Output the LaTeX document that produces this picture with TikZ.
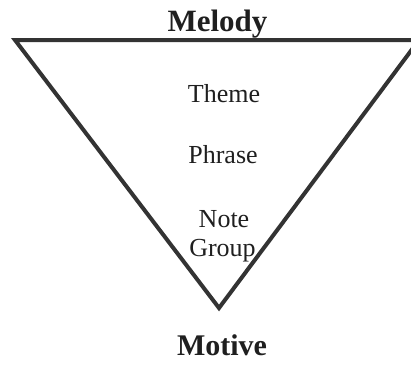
\documentclass[tikz,border=0pt]{standalone}
\usepackage{fontspec}
\setmainfont{Liberation Serif}
\begin{document}
\begin{tikzpicture}[x=1pt,y=-1pt,
  title/.style={anchor=base,inner sep=0pt,text=black!88,font=\fontsize{31}{31}\selectfont\bfseries},
  level/.style={anchor=base,inner sep=0pt,text=black!88,font=\fontsize{26}{26}\selectfont},
  tri/.style={draw=black!80,line width=4pt,miter limit=20}]
\useasboundingbox (0,0) rectangle (411,364);
\clip (0,0) rectangle (411,364);
\coordinate (tl) at (15,40);
\coordinate (tr) at (419,40);
\coordinate (ap) at (219,308);
\draw[tri] (tl) -- (tr) -- (ap) -- cycle;
\node[title] (melody) at (217.5,31) {Melody};
\node[title,font=\fontsize{30}{30}\selectfont\bfseries] (motive) at (222,355) {Motive};
\node[level] (theme) at (224,102) {Theme};
\node[level] (phrase) at (223,163) {Phrase};
\node[level] (note) at (224,227) {Note};
\node[level] (group) at (222.5,256) {Group};
\end{tikzpicture}
\end{document}
